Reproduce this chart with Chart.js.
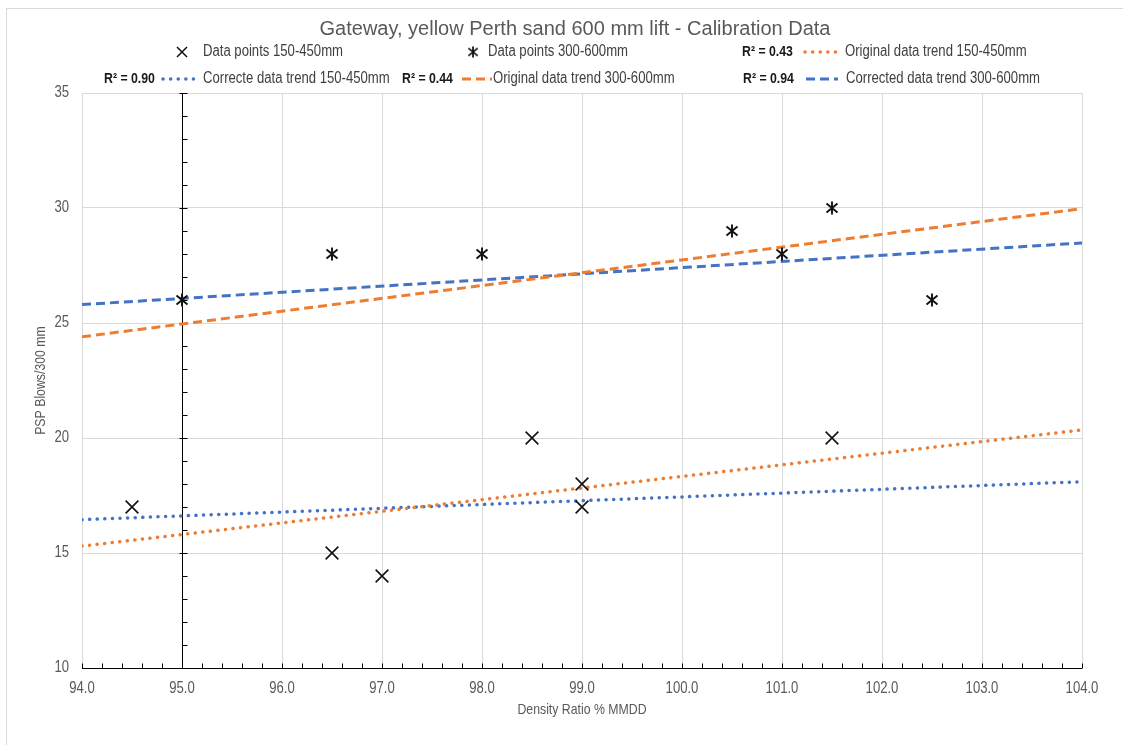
<!DOCTYPE html>
<html>
<head>
<meta charset="utf-8">
<title>Gateway calibration chart</title>
<script src="https://cdn.jsdelivr.net/npm/chart.js@4.4.1/dist/chart.umd.min.js"></script>
<style>
  html, body { margin: 0; padding: 0; background: #fff; }
  #wrap { position: relative; width: 1123px; height: 745px; overflow: hidden; }
  #frame { position: absolute; left: 6px; top: 8px; width: 1140px; height: 760px; border: 1px solid #d9d9d9; }
  #chart { position: absolute; left: 0; top: 0; }
</style>
</head>
<body>
<div id="wrap">
  <div id="frame"></div>
  <canvas id="chart" width="1123" height="745"></canvas>
</div>
<script>
(function () {
  'use strict';

  // ── Data ────────────────────────────────────────────────────────────────
  const titleText = 'Gateway, yellow Perth sand 600 mm lift - Calibration Data';
  const xTitle = 'Density Ratio % MMDD';
  const yTitle = 'PSP Blows/300 mm';

  const xRange = [94, 104];
  const yRange = [10, 35];

  const density150 = [94.5, 96.5, 97.0, 98.5, 99.0, 99.0, 101.5];
  const blows150   = [17, 15, 14, 20, 18, 17, 20];
  const density300 = [95.0, 96.5, 98.0, 100.5, 101.0, 101.5, 102.5];
  const blows300   = [26, 28, 28, 29, 28, 30, 26];

  // trend lines, read at both ends of the axis
  const trendX       = [94, 104];
  const origTrend150 = [15.3, 20.35];
  const corrTrend150 = [16.45, 18.1];
  const origTrend300 = [24.4, 29.97];
  const corrTrend300 = [25.8, 28.48];

  const seriesNames = [
    'Data points 150-450mm',
    'Data points 300-600mm',
    'Original data trend 150-450mm',
    'Correcte data trend 150-450mm',
    'Original data trend 300-600mm',
    'Corrected data trend 300-600mm'
  ];
  const rSquared = [null, null, '0.43', '0.90', '0.44', '0.94'];

  // ── Styles ──────────────────────────────────────────────────────────────
  const SANS   = "'Liberation Sans', Arial, sans-serif";
  const NARROW_SCALE = 0.82;   // no Arial Narrow installed: squeeze Liberation Sans
  const ORANGE = '#ED7D31';
  const BLUE   = '#4472C4';
  const GRID   = '#d9d9d9';
  const LABEL  = '#595959';
  const MARK   = '#111111';

  const zip = (xs, ys) => xs.map((x, i) => ({ x, y: ys[i] }));

  // draw text squeezed horizontally, like a narrow face
  function narrowText(ctx, text, x, y, align, font, color, angle) {
    ctx.save();
    ctx.translate(x, y);
    if (angle) ctx.rotate(angle);
    ctx.scale(NARROW_SCALE, 1);
    ctx.font = font;
    ctx.fillStyle = color;
    ctx.textAlign = align;
    ctx.textBaseline = 'middle';
    ctx.fillText(text, 0, 0);
    ctx.restore();
  }

  // asterisk marker: x with a vertical stroke
  function makeAsterisk() {
    const c = document.createElement('canvas');
    c.width = 14; c.height = 14;
    const g = c.getContext('2d');
    g.strokeStyle = MARK;
    g.lineWidth = 1.9;
    g.beginPath();
    g.moveTo(1.5, 2.5); g.lineTo(12.5, 11.5);
    g.moveTo(12.5, 2.5); g.lineTo(1.5, 11.5);
    g.moveTo(7, 0.5); g.lineTo(7, 13.5);
    g.stroke();
    return c;
  }
  const asterisk = makeAsterisk();

  const dotted = { borderWidth: 3.5, borderDash: [0.1, 7.5], borderCapStyle: 'round' };
  const dashed = { borderWidth: 3, borderDash: [9, 5], borderCapStyle: 'butt' };

  const trendSet = (i, ys, color, dash) => Object.assign({
    label: seriesNames[i],
    data: zip(trendX, ys),
    showLine: true,
    borderColor: color,
    backgroundColor: color,
    pointRadius: 0,
    fill: false
  }, dash);

  const datasets = [
    {
      label: seriesNames[0],
      data: zip(density150, blows150),
      pointStyle: 'crossRot',
      pointRadius: 9,
      borderColor: MARK,
      borderWidth: 1.6,
      backgroundColor: 'transparent'
    },
    {
      label: seriesNames[1],
      data: zip(density300, blows300),
      pointStyle: asterisk,
      pointRadius: 7,
      borderColor: MARK,
      backgroundColor: 'transparent'
    },
    trendSet(2, origTrend150, ORANGE, dotted),
    trendSet(3, corrTrend150, BLUE, dotted),
    trendSet(4, origTrend300, ORANGE, dashed),
    trendSet(5, corrTrend300, BLUE, dashed)
  ];

  // ── Axis crossing at 95 with minor ticks, tick labels, axis titles ──────
  const crossAxes = {
    id: 'crossAxes',
    beforeDatasetsDraw(chart) {
      const { ctx, chartArea: a, scales: { x, y } } = chart;
      const ax = Math.round(x.getPixelForValue(95)) + 0.5;
      const ay = Math.round(y.getPixelForValue(yRange[0])) + 0.5;
      ctx.save();
      ctx.strokeStyle = '#000';
      ctx.lineWidth = 1;
      ctx.beginPath();
      ctx.moveTo(a.left, ay); ctx.lineTo(a.right, ay);
      for (let k = 0; k <= (xRange[1] - xRange[0]) * 5; k++) {
        const px = Math.round(x.getPixelForValue(xRange[0] + k * 0.2)) + 0.5;
        ctx.moveTo(px, ay); ctx.lineTo(px, ay - 5);
      }
      ctx.moveTo(ax, a.top); ctx.lineTo(ax, a.bottom);
      for (let v = yRange[0]; v <= yRange[1]; v++) {
        const py = Math.round(y.getPixelForValue(v)) + 0.5;
        ctx.moveTo(v % 5 === 0 ? ax - 3 : ax, py); ctx.lineTo(ax + 5, py);
      }
      ctx.stroke();
      ctx.restore();

      const tf = '16px ' + SANS;
      x.ticks.forEach(t => {
        narrowText(ctx, Number(t.value).toFixed(1), x.getPixelForValue(t.value), a.bottom + 21, 'center', tf, LABEL);
      });
      y.ticks.forEach(t => {
        narrowText(ctx, String(t.value), a.left - 13, y.getPixelForValue(t.value), 'right', tf, LABEL);
      });
      const af = '15px ' + SANS;
      narrowText(ctx, xTitle, (a.left + a.right) / 2, a.bottom + 42, 'center', af, LABEL);
      narrowText(ctx, yTitle, 41, (a.top + a.bottom) / 2, 'center', af, LABEL, -Math.PI / 2);
    }
  };

  // ── Title and legend ────────────────────────────────────────────────────
  const legendSlots = [
    { y: 52, sym: 182, text: 203 },
    { y: 52, sym: 473, text: 488 },
    { y: 52, r2: 742, line: [805, 843], text: 845 },
    { y: 79, r2: 104, line: [163, 200], text: 203 },
    { y: 79, r2: 402, line: [462, 492], text: 493 },
    { y: 79, r2: 743, line: [806, 838], text: 846 }
  ];

  const titleLegend = {
    id: 'titleLegend',
    afterDraw(chart) {
      const ctx = chart.ctx;
      ctx.save();
      ctx.textBaseline = 'middle';
      ctx.textAlign = 'center';
      ctx.fillStyle = LABEL;
      ctx.font = '20px ' + SANS;
      ctx.fillText(titleText, 575, 29);
      ctx.restore();

      legendSlots.forEach((s, i) => {
        const ds = chart.data.datasets[i];
        if (s.r2) {
          narrowText(ctx, 'R² = ' + rSquared[i], s.r2, s.y, 'left', 'bold 15px ' + SANS, '#1a1a1a');
        }
        ctx.save();
        if (s.line) {
          ctx.strokeStyle = ds.borderColor;
          ctx.lineWidth = ds.borderWidth;
          ctx.setLineDash(ds.borderDash);
          ctx.lineCap = ds.borderCapStyle;
          ctx.beginPath();
          ctx.moveTo(s.line[0], s.y); ctx.lineTo(s.line[1], s.y);
          ctx.stroke();
        } else if (i === 0) {
          ctx.strokeStyle = MARK; ctx.lineWidth = 1.5;
          ctx.beginPath();
          ctx.moveTo(s.sym - 5, s.y - 5); ctx.lineTo(s.sym + 5, s.y + 5);
          ctx.moveTo(s.sym + 5, s.y - 5); ctx.lineTo(s.sym - 5, s.y + 5);
          ctx.stroke();
        } else {
          ctx.drawImage(asterisk, s.sym - 6, s.y - 6, 12, 12);
        }
        ctx.restore();
        narrowText(ctx, seriesNames[i], s.text, s.y, 'left', '16px ' + SANS, '#404040');
      });
    }
  };

  // ── Chart ───────────────────────────────────────────────────────────────
  new Chart(document.getElementById('chart'), {
    type: 'scatter',
    data: { datasets },
    plugins: [crossAxes, titleLegend],
    options: {
      responsive: false,
      animation: false,
      layout: { padding: { top: 93, right: 41, left: 0, bottom: 0 } },
      plugins: {
        legend: { display: false },
        title: { display: false },
        tooltip: { enabled: false }
      },
      scales: {
        x: {
          type: 'linear',
          min: xRange[0],
          max: xRange[1],
          afterFit: s => { s.height = 77; },
          border: { display: false },
          grid: { color: GRID, drawTicks: false },
          ticks: { stepSize: 1, display: false }
        },
        y: {
          type: 'linear',
          min: yRange[0],
          max: yRange[1],
          afterFit: s => { s.width = 82; },
          border: { display: false },
          grid: { color: GRID, drawTicks: false },
          ticks: { stepSize: 5, display: false }
        }
      }
    }
  });
})();
</script>
</body>
</html>
